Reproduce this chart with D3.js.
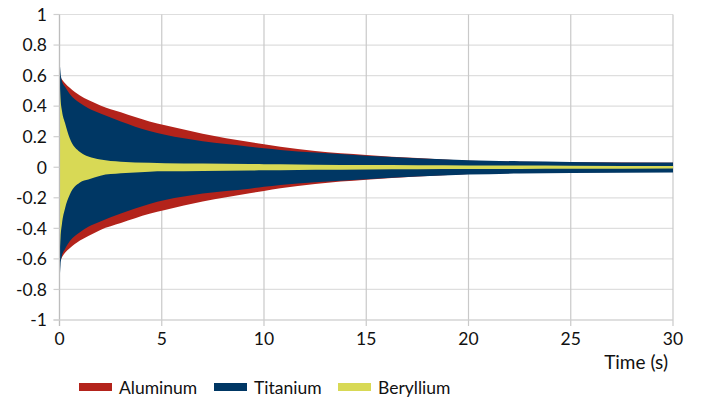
<!DOCTYPE html>
<html><head><meta charset="utf-8">
<script src="https://cdn.jsdelivr.net/npm/d3@7"></script>
<style>body{margin:0;background:#fff;} text{font-family:Lato, "DejaVu Sans", sans-serif;}</style>
</head><body><svg id="c" width="704" height="399"></svg>
<script>
// Envelope data (time in s, amplitude)
const times      = [0, 0.05, 0.12, 0.27, 0.5, 1, 1.41, 2, 3, 4.4, 5.16, 7, 9.3, 10, 10.8, 12.5, 15, 17.5, 20, 22.5, 25, 30];
const aluminumUp = [0.60, 0.59, 0.575, 0.55, 0.52, 0.47, 0.44, 0.405, 0.36, 0.30, 0.275, 0.22, 0.165, 0.15, 0.134, 0.107, 0.081, 0.060, 0.043, 0.036, 0.032, 0.029];
const aluminumLo = [-0.62, -0.61, -0.59, -0.56, -0.53, -0.48, -0.45, -0.41, -0.365, -0.305, -0.28, -0.224, -0.17, -0.155, -0.137, -0.109, -0.082, -0.061, -0.044, -0.037, -0.033, -0.030];
const titaniumUp = [0.71, 0.62, 0.565, 0.527, 0.48, 0.42, 0.386, 0.352, 0.30, 0.237, 0.212, 0.17, 0.135, 0.124, 0.113, 0.096, 0.076, 0.059, 0.046, 0.039, 0.035, 0.031];
const titaniumLo = [-0.76, -0.64, -0.58, -0.535, -0.485, -0.425, -0.39, -0.355, -0.303, -0.24, -0.215, -0.172, -0.14, -0.128, -0.116, -0.098, -0.078, -0.061, -0.048, -0.041, -0.037, -0.034];
const berylliumUp = [0.60, 0.45, 0.37, 0.29, 0.19, 0.10, 0.07, 0.05, 0.036, 0.029, 0.027, 0.024, 0.021, 0.020, 0.019, 0.017, 0.014, 0.013, 0.012, 0.011, 0.010, 0.008];
const berylliumLo = [-0.60, -0.46, -0.37, -0.27, -0.18, -0.10, -0.08, -0.055, -0.04, -0.029, -0.027, -0.024, -0.021, -0.020, -0.019, -0.017, -0.014, -0.013, -0.012, -0.011, -0.010, -0.008];
const seriesNames = ["Aluminum", "Titanium", "Beryllium"];
const colors = ["#B3231B", "#003764", "#D8D955"];
const xTicks = [0, 5, 10, 15, 20, 25, 30];
const yTicks = [-1, -0.8, -0.6, -0.4, -0.2, 0, 0.2, 0.4, 0.6, 0.8, 1];
const yTickLabels = ["-1", "-0.8", "-0.6", "-0.4", "-0.2", "0", "0.2", "0.4", "0.6", "0.8", "1"];

const svg = d3.select("#c");
const L = 59.5, R = 673, T = 14.5, B = 320;
const x = d3.scaleLinear().domain([0, 30]).range([L, R]);
const y = d3.scaleLinear().domain([-1, 1]).range([B, T]);

// grid
svg.append("g").selectAll("line").data(yTicks).join("line")
  .attr("x1", L).attr("x2", R).attr("y1", d => y(d)).attr("y2", d => y(d))
  .attr("stroke", "#dedede").attr("stroke-width", 1.2);
svg.append("g").selectAll("line").data(xTicks).join("line")
  .attr("x1", d => x(d)).attr("x2", d => x(d)).attr("y1", T).attr("y2", B + 6)
  .attr("stroke", "#c9c9c9").attr("stroke-width", 1.2);

const sets = [[aluminumUp, aluminumLo], [titaniumUp, titaniumLo], [berylliumUp, berylliumLo]];
const area = d3.area().x(d => x(d.t)).y0(d => y(d.lo)).y1(d => y(d.hi)).curve(d3.curveMonotoneX);
sets.forEach((s, i) => {
  const data = times.map((t, k) => ({t, hi: s[0][k], lo: s[1][k]}));
  svg.append("path").datum(data).attr("d", area).attr("fill", colors[i]);
});

// axes lines
svg.append("line").attr("x1", L).attr("x2", L).attr("y1", T).attr("y2", B + 6).attr("stroke", "#bdbdbd").attr("stroke-width", 1.2);
svg.append("line").attr("x1", L - 6).attr("x2", R).attr("y1", B).attr("y2", B).attr("stroke", "#cfcfcf").attr("stroke-width", 1.2);
svg.append("g").selectAll("line").data(yTicks).join("line")
  .attr("x1", L - 6).attr("x2", L).attr("y1", d => y(d)).attr("y2", d => y(d))
  .attr("stroke", "#cfcfcf").attr("stroke-width", 1.2);

const fs = 17.5;
svg.append("g").selectAll("text").data(yTicks).join("text")
  .attr("x", 47).attr("y", d => y(d)).attr("dy", "0.36em").attr("text-anchor", "end")
  .attr("font-size", fs).attr("fill", "#111").text((d, i) => yTickLabels[i]);
svg.append("g").selectAll("text").data(xTicks).join("text")
  .attr("x", d => x(d)).attr("y", 345).attr("text-anchor", "middle")
  .attr("font-size", fs).attr("fill", "#111").text(d => d);
svg.append("text").attr("x", 668).attr("y", 369).attr("text-anchor", "end")
  .attr("font-size", 19).attr("fill", "#111").text("Time (s)");

const legX = [79, 214, 338];
seriesNames.forEach((n, i) => {
  svg.append("rect").attr("x", legX[i]).attr("y", 383).attr("width", 33).attr("height", 8).attr("fill", colors[i]);
  svg.append("text").attr("x", legX[i] + 40).attr("y", 394).attr("font-size", fs).attr("fill", "#111").text(n);
});
</script></body></html>
